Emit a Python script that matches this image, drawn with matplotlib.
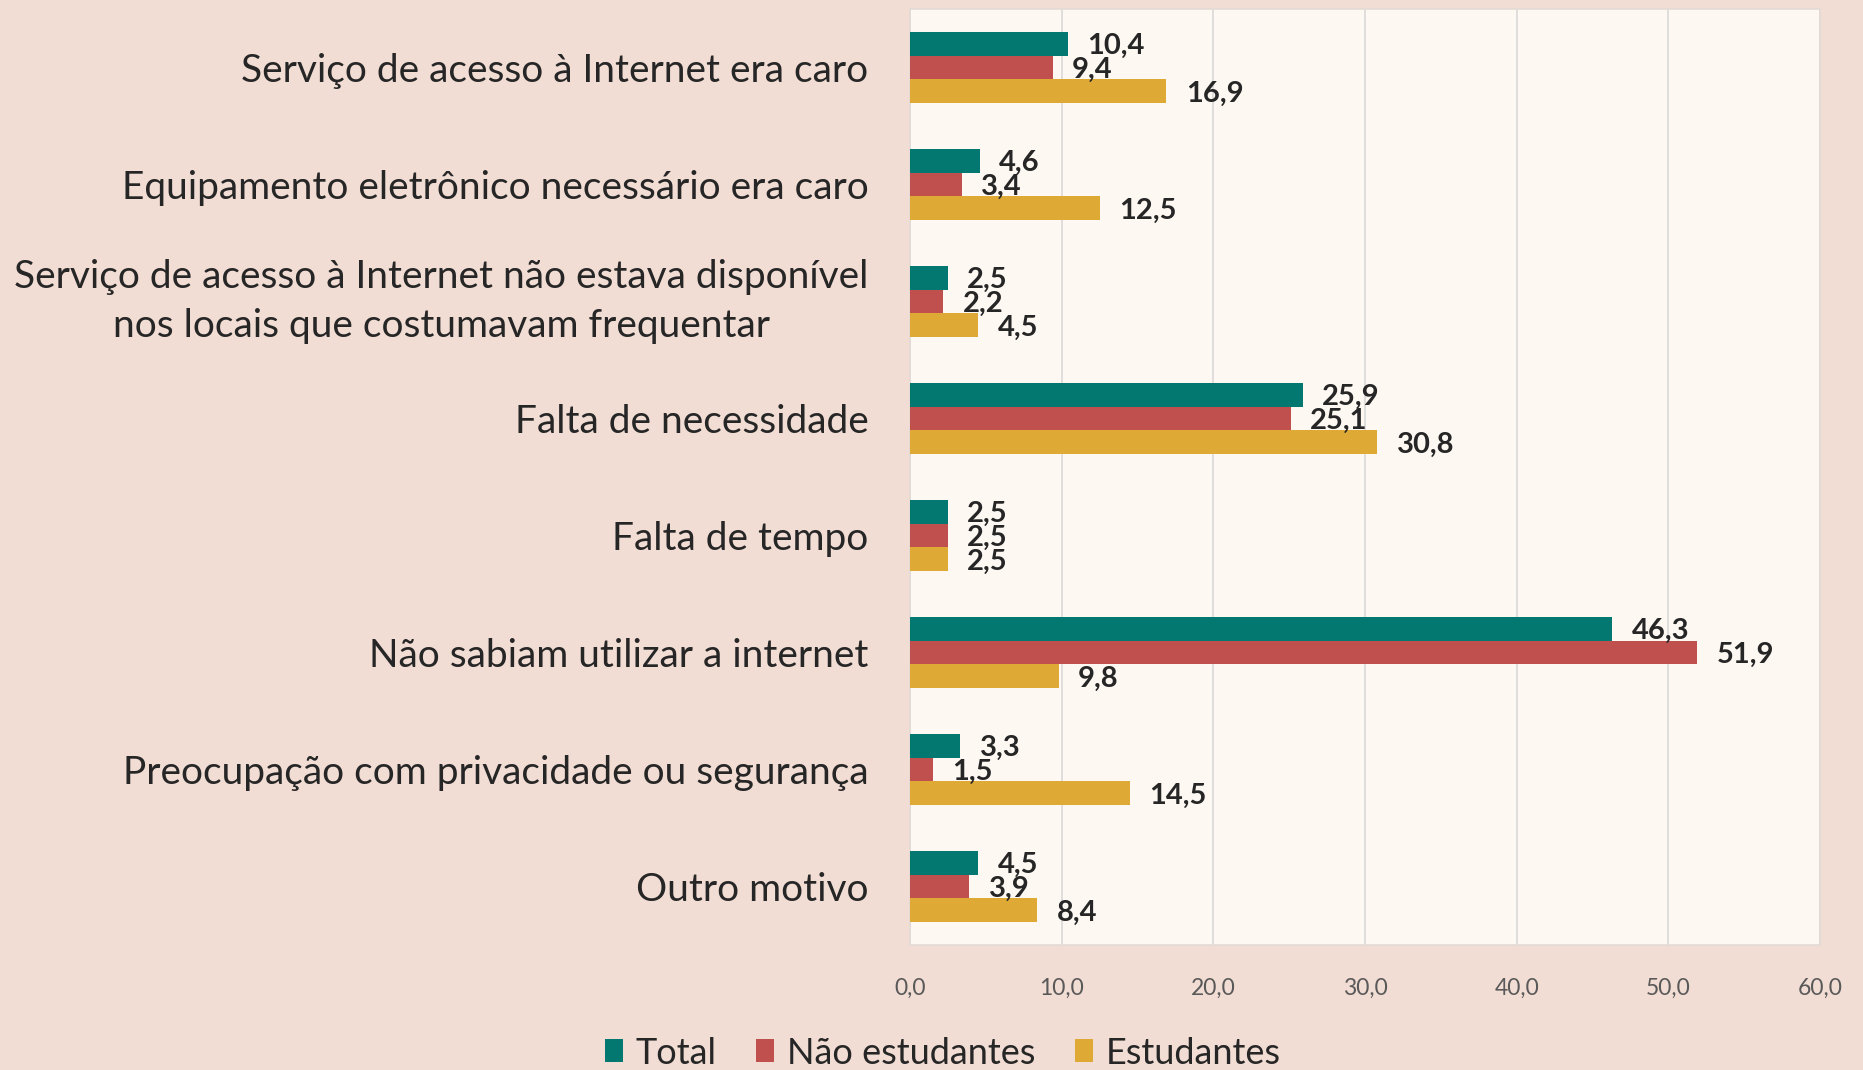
import matplotlib
matplotlib.use("Agg")
import matplotlib.pyplot as plt
import numpy as np

categories = [
    "Serviço de acesso à Internet era caro",
    "Equipamento eletrônico necessário era caro",
    "Serviço de acesso à Internet não estava disponível\nnos locais que costumavam frequentar",
    "Falta de necessidade",
    "Falta de tempo",
    "Não sabiam utilizar a internet",
    "Preocupação com privacidade ou segurança",
    "Outro motivo",
]
total = [10.4, 4.6, 2.5, 25.9, 2.5, 46.3, 3.3, 4.5]
nao_estudantes = [9.4, 3.4, 2.2, 25.1, 2.5, 51.9, 1.5, 3.9]
estudantes = [16.9, 12.5, 4.5, 30.8, 2.5, 9.8, 14.5, 8.4]
series_names = ["Total", "Não estudantes", "Estudantes"]
colors = ["#037870", "#C0504D", "#DEA935"]
xticks = [0, 10, 20, 30, 40, 50, 60]

plt.rcParams['font.family'] = ['Lato', 'DejaVu Sans']

fig = plt.figure(figsize=(18.63, 10.70), dpi=100, facecolor="#F2DDD4")
ax = fig.add_axes([910/1863, 1 - 945/1070, 910/1863, 936/1070])
ax.set_facecolor("#FEF8F3")

n = len(categories)
y = np.arange(n)
h = 0.205
series = [total, nao_estudantes, estudantes]
for i, (vals, name, c) in enumerate(zip(series, series_names, colors)):
    pos = y + (i - 1) * h
    bars = ax.barh(pos, vals, height=h, color=c, label=name, zorder=3)
    for b, v in zip(bars, vals):
        ax.annotate(f"{v:.1f}".replace(".", ","),
                    xy=(b.get_width(), b.get_y() + b.get_height() / 2),
                    xytext=(14, -2), textcoords="offset points",
                    ha="left", va="center", fontsize=21, fontweight="bold",
                    color="#262626", zorder=4)

ax.set_ylim(n - 0.5, -0.5)
ax.set_xlim(0, 60)
ax.set_xticks(xticks)
ax.set_xticklabels([f"{t:.1f}".replace(".", ",") for t in xticks],
                   fontsize=16.5, color="#595959")
ax.tick_params(axis="x", length=0, pad=24)
ax.set_yticks(y)
ax.set_yticklabels(categories, fontsize=28, color="#262626",
                   multialignment="center", linespacing=1.45)
ax.tick_params(axis="y", length=0, pad=30)
for lbl in ax.get_yticklabels():
    if "\n" in lbl.get_text():
        lbl.set_verticalalignment("center")
ax.grid(axis="x", color="#D9D9D9", linewidth=1.2, zorder=0)
for s in ax.spines.values():
    s.set_color("#E3DAD5")
    s.set_linewidth(1.2)

handles, labels = ax.get_legend_handles_labels()
leg = fig.legend(handles, labels, loc="center", bbox_to_anchor=(0.506, 1 - 1053/1070),
                 ncol=3, frameon=False, fontsize=26, handlelength=0.5, handleheight=0.6,
                 handletextpad=0.35, columnspacing=1.1, labelcolor="#262626")

fig.savefig("out.png", dpi=100, facecolor=fig.get_facecolor())
